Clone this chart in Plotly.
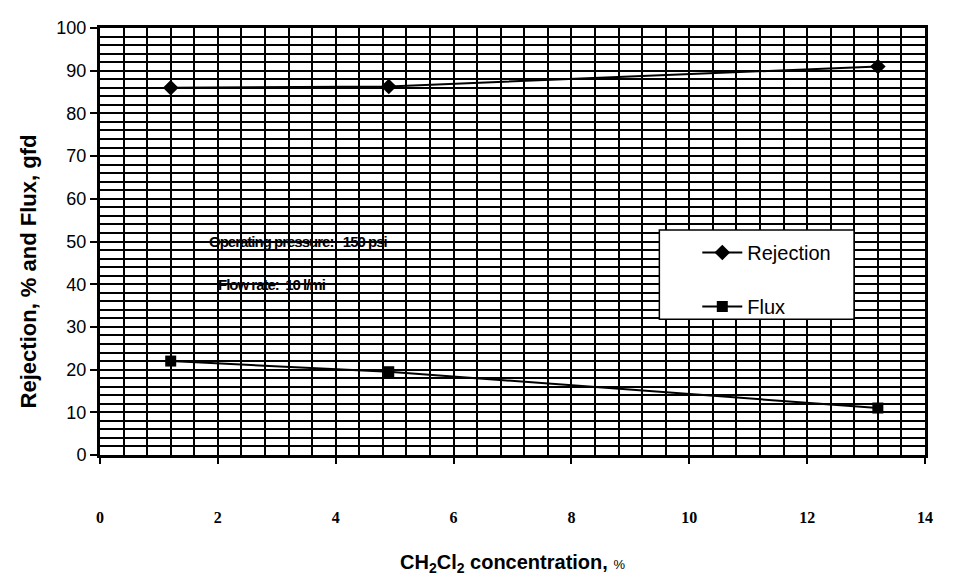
import plotly.graph_objects as go

conc = [1.2, 4.9, 13.2]
rejection = [86.0, 86.3, 91.0]
flux = [22.0, 19.5, 11.0]
x_ticks = [0, 2, 4, 6, 8, 10, 12, 14]
y_ticks = [0, 10, 20, 30, 40, 50, 60, 70, 80, 90, 100]

fig = go.Figure()
fig.add_trace(go.Scatter(x=conc, y=rejection, name="Rejection", mode="lines+markers",
                         line=dict(color="black", width=2),
                         marker=dict(symbol="diamond", size=12, color="black"),
                         legendgroup="a"))
fig.add_trace(go.Scatter(x=conc, y=flux, name="Flux", mode="lines+markers",
                         line=dict(color="black", width=2),
                         marker=dict(symbol="square", size=11, color="black"),
                         legendgroup="b"))

fig.add_shape(type="rect", xref="paper", yref="paper", x0=0.678, x1=0.914, y0=0.318, y1=0.527,
              line=dict(color="black", width=1.5), fillcolor="white", layer="above")

txt_font = dict(family="Liberation Sans, Arial", size=15, color="black")
fig.add_annotation(x=1.82, y=50.0, xref="x", yref="y", xanchor="left", showarrow=False,
                   text="<span style='letter-spacing:-1px'><b>Operating pressure:   150 psi</b></span>",
                   font=txt_font)
fig.add_annotation(x=1.97, y=40.0, xref="x", yref="y", xanchor="left", showarrow=False,
                   text="<span style='letter-spacing:-1px'><b>Flow rate:  10 l/mi</b></span>",
                   font=txt_font)

# axis titles
fig.add_annotation(x=0.5, y=0, xref="paper", yref="paper", yanchor="middle", yshift=-108,
                   showarrow=False,
                   text="<b>CH<sub>2</sub>Cl<sub>2</sub> concentration, </b><span style='font-size:13px'>%</span>",
                   font=dict(size=20, family="Liberation Sans, Arial", color="black"))
fig.add_annotation(x=0, y=0.43, xref="paper", yref="paper", xanchor="center", xshift=-72,
                   showarrow=False, textangle=-90,
                   text="<b>Rejection, % and Flux, gfd</b>",
                   font=dict(size=22, family="Liberation Sans, Arial", color="black"))

fig.update_layout(
    width=963, height=579,
    margin=dict(l=92, r=46, t=10, b=132),
    paper_bgcolor="white", plot_bgcolor="white",
    font=dict(family="Liberation Sans, Arial", color="black"),
    showlegend=True,
    legend=dict(x=0.724, y=0.52, xanchor="left", yanchor="top",
                bgcolor="rgba(0,0,0,0)", borderwidth=0,
                font=dict(size=20, family="Liberation Sans, Arial", color="black"),
                itemwidth=40, tracegroupgap=25),
    xaxis=dict(range=[0, 14], tickvals=x_ticks, ticktext=[str(v) for v in x_ticks],
               ticks="outside", ticklen=6, tickcolor="black", tickwidth=1.5,
               ticklabelstandoff=40,
               tickfont=dict(family="Liberation Serif, Times New Roman", size=16, color="black", weight="bold"),
               showgrid=True, gridcolor="black", gridwidth=1.5,
               minor=dict(dtick=0.4, showgrid=True, gridcolor="black", gridwidth=1.5),
               showline=True, linecolor="black", linewidth=2.5, mirror=True,
               zeroline=False),
    yaxis=dict(range=[0, 100], tickvals=y_ticks,
               ticks="outside", ticklen=7, tickcolor="black", tickwidth=1.5,
               tickfont=dict(family="Liberation Sans, Arial", size=18, color="black"),
               showgrid=True, gridcolor="black", gridwidth=1.5,
               minor=dict(dtick=2, showgrid=True, gridcolor="black", gridwidth=1.5),
               showline=True, linecolor="black", linewidth=3, mirror=True,
               zeroline=False),
)

fig.write_html("out.html")
